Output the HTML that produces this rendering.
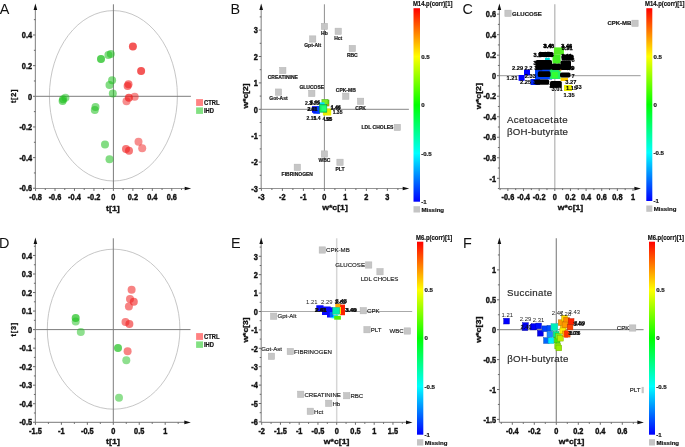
<!DOCTYPE html>
<html><head><meta charset="utf-8"><title>Figure</title>
<style>html,body{margin:0;padding:0;background:#fff;}body{width:685px;height:447px;overflow:hidden;font-family:"Liberation Sans",sans-serif;}svg{display:block;will-change:transform;}</style></head><body>
<svg width="685" height="447" viewBox="0 0 685 447" font-family="Liberation Sans, sans-serif">
<rect width="685" height="447" fill="#ffffff"/>
<ellipse cx="113.4" cy="95.8" rx="64" ry="85.2" fill="none" stroke="#b8b8b8" stroke-width="0.8"/>
<line x1="113.4" y1="4.3" x2="113.4" y2="188.5" stroke="#7c7c7c" stroke-width="1"/>
<line x1="35.4" y1="96.3" x2="190.9" y2="96.3" stroke="#7c7c7c" stroke-width="1"/>
<line x1="35.4" y1="8.3" x2="35.4" y2="188.5" stroke="#939393" stroke-width="1.2"/>
<line x1="35.4" y1="188.5" x2="185.9" y2="188.5" stroke="#939393" stroke-width="1.2"/>
<path d="M35.4 3.5 L33.6 9.9 L37.2 9.9 Z" fill="#111"/>
<path d="M191.2 188.5 L184.7 186.7 L184.7 190.3 Z" fill="#111"/>
<line x1="35.56" y1="188.5" x2="35.56" y2="190.9" stroke="#5a5a5a" stroke-width="0.9"/>
<text transform="translate(35.56 199.9) scale(0.9 1)" font-size="8.2" font-weight="bold" text-anchor="middle" fill="#111111" stroke="#111111" stroke-width="0.4">-0.8</text>
<line x1="45.29" y1="188.5" x2="45.29" y2="190" stroke="#5a5a5a" stroke-width="0.9"/>
<line x1="55.02" y1="188.5" x2="55.02" y2="190.9" stroke="#5a5a5a" stroke-width="0.9"/>
<text transform="translate(55.02 199.9) scale(0.9 1)" font-size="8.2" font-weight="bold" text-anchor="middle" fill="#111111" stroke="#111111" stroke-width="0.4">-0.6</text>
<line x1="64.75" y1="188.5" x2="64.75" y2="190" stroke="#5a5a5a" stroke-width="0.9"/>
<line x1="74.48" y1="188.5" x2="74.48" y2="190.9" stroke="#5a5a5a" stroke-width="0.9"/>
<text transform="translate(74.48 199.9) scale(0.9 1)" font-size="8.2" font-weight="bold" text-anchor="middle" fill="#111111" stroke="#111111" stroke-width="0.4">-0.4</text>
<line x1="84.21" y1="188.5" x2="84.21" y2="190" stroke="#5a5a5a" stroke-width="0.9"/>
<line x1="93.94" y1="188.5" x2="93.94" y2="190.9" stroke="#5a5a5a" stroke-width="0.9"/>
<text transform="translate(93.94 199.9) scale(0.9 1)" font-size="8.2" font-weight="bold" text-anchor="middle" fill="#111111" stroke="#111111" stroke-width="0.4">-0.2</text>
<line x1="103.67" y1="188.5" x2="103.67" y2="190" stroke="#5a5a5a" stroke-width="0.9"/>
<line x1="113.4" y1="188.5" x2="113.4" y2="190.9" stroke="#5a5a5a" stroke-width="0.9"/>
<text transform="translate(113.4 199.9) scale(0.9 1)" font-size="8.2" font-weight="bold" text-anchor="middle" fill="#111111" stroke="#111111" stroke-width="0.4">0</text>
<line x1="123.13" y1="188.5" x2="123.13" y2="190" stroke="#5a5a5a" stroke-width="0.9"/>
<line x1="132.86" y1="188.5" x2="132.86" y2="190.9" stroke="#5a5a5a" stroke-width="0.9"/>
<text transform="translate(132.86 199.9) scale(0.9 1)" font-size="8.2" font-weight="bold" text-anchor="middle" fill="#111111" stroke="#111111" stroke-width="0.4">0.2</text>
<line x1="142.59" y1="188.5" x2="142.59" y2="190" stroke="#5a5a5a" stroke-width="0.9"/>
<line x1="152.32" y1="188.5" x2="152.32" y2="190.9" stroke="#5a5a5a" stroke-width="0.9"/>
<text transform="translate(152.32 199.9) scale(0.9 1)" font-size="8.2" font-weight="bold" text-anchor="middle" fill="#111111" stroke="#111111" stroke-width="0.4">0.4</text>
<line x1="162.05" y1="188.5" x2="162.05" y2="190" stroke="#5a5a5a" stroke-width="0.9"/>
<line x1="171.78" y1="188.5" x2="171.78" y2="190.9" stroke="#5a5a5a" stroke-width="0.9"/>
<text transform="translate(171.78 199.9) scale(0.9 1)" font-size="8.2" font-weight="bold" text-anchor="middle" fill="#111111" stroke="#111111" stroke-width="0.4">0.6</text>
<line x1="181.51" y1="188.5" x2="181.51" y2="190" stroke="#5a5a5a" stroke-width="0.9"/>
<line x1="33" y1="188.28" x2="35.4" y2="188.28" stroke="#5a5a5a" stroke-width="0.9"/>
<text transform="translate(32.1 191.48) scale(0.9 1)" font-size="8.2" font-weight="bold" text-anchor="end" fill="#111111" stroke="#111111" stroke-width="0.4">-0.6</text>
<line x1="33.9" y1="172.95" x2="35.4" y2="172.95" stroke="#5a5a5a" stroke-width="0.9"/>
<line x1="33" y1="157.62" x2="35.4" y2="157.62" stroke="#5a5a5a" stroke-width="0.9"/>
<text transform="translate(32.1 160.82) scale(0.9 1)" font-size="8.2" font-weight="bold" text-anchor="end" fill="#111111" stroke="#111111" stroke-width="0.4">-0.4</text>
<line x1="33.9" y1="142.29" x2="35.4" y2="142.29" stroke="#5a5a5a" stroke-width="0.9"/>
<line x1="33" y1="126.96" x2="35.4" y2="126.96" stroke="#5a5a5a" stroke-width="0.9"/>
<text transform="translate(32.1 130.16) scale(0.9 1)" font-size="8.2" font-weight="bold" text-anchor="end" fill="#111111" stroke="#111111" stroke-width="0.4">-0.2</text>
<line x1="33.9" y1="111.63" x2="35.4" y2="111.63" stroke="#5a5a5a" stroke-width="0.9"/>
<line x1="33" y1="96.3" x2="35.4" y2="96.3" stroke="#5a5a5a" stroke-width="0.9"/>
<text transform="translate(32.1 99.5) scale(0.9 1)" font-size="8.2" font-weight="bold" text-anchor="end" fill="#111111" stroke="#111111" stroke-width="0.4">0</text>
<line x1="33.9" y1="80.97" x2="35.4" y2="80.97" stroke="#5a5a5a" stroke-width="0.9"/>
<line x1="33" y1="65.64" x2="35.4" y2="65.64" stroke="#5a5a5a" stroke-width="0.9"/>
<text transform="translate(32.1 68.84) scale(0.9 1)" font-size="8.2" font-weight="bold" text-anchor="end" fill="#111111" stroke="#111111" stroke-width="0.4">0.2</text>
<line x1="33.9" y1="50.31" x2="35.4" y2="50.31" stroke="#5a5a5a" stroke-width="0.9"/>
<line x1="33" y1="34.98" x2="35.4" y2="34.98" stroke="#5a5a5a" stroke-width="0.9"/>
<text transform="translate(32.1 38.18) scale(0.9 1)" font-size="8.2" font-weight="bold" text-anchor="end" fill="#111111" stroke="#111111" stroke-width="0.4">0.4</text>
<line x1="33.9" y1="19.65" x2="35.4" y2="19.65" stroke="#5a5a5a" stroke-width="0.9"/>
<text x="112.9" y="210.8" font-size="8" font-weight="bold" fill="#111111" stroke="#111111" stroke-width="0.3" text-anchor="middle" textLength="13.8" lengthAdjust="spacingAndGlyphs">t[1]</text>
<text x="0" y="0" font-size="7.3" font-weight="bold" fill="#111111" stroke="#111111" stroke-width="0.32" text-anchor="middle" textLength="13.6" lengthAdjust="spacing" transform="translate(15.5 96.3) rotate(-90)">t[2]</text>
<text x="-0.3" y="13.8" font-size="14.4" fill="#111">A</text>
<circle cx="132.9" cy="46.4" r="4" fill="#f01e1e" fill-opacity="0.75"/>
<circle cx="141.1" cy="70.9" r="4" fill="#f01e1e" fill-opacity="0.75"/>
<circle cx="128.5" cy="84.3" r="4" fill="#f01e1e" fill-opacity="0.6"/>
<circle cx="127.6" cy="86" r="4" fill="#f01e1e" fill-opacity="0.6"/>
<circle cx="134.7" cy="96.7" r="4" fill="#f01e1e" fill-opacity="0.5"/>
<circle cx="128.9" cy="97.8" r="4" fill="#f01e1e" fill-opacity="0.7"/>
<circle cx="126.5" cy="101.3" r="4" fill="#f01e1e" fill-opacity="0.5"/>
<circle cx="138.5" cy="141.7" r="4" fill="#f01e1e" fill-opacity="0.5"/>
<circle cx="142.2" cy="148.3" r="4" fill="#f01e1e" fill-opacity="0.5"/>
<circle cx="126" cy="149" r="4" fill="#f01e1e" fill-opacity="0.6"/>
<circle cx="129" cy="150.7" r="4" fill="#f01e1e" fill-opacity="0.6"/>
<circle cx="63.1" cy="99.2" r="4" fill="#1ec01e" fill-opacity="0.6"/>
<circle cx="65.4" cy="97.8" r="4" fill="#1ec01e" fill-opacity="0.5"/>
<circle cx="62.6" cy="101.1" r="4" fill="#1ec01e" fill-opacity="0.6"/>
<circle cx="101" cy="59.1" r="4" fill="#1ec01e" fill-opacity="0.75"/>
<circle cx="108.4" cy="55.1" r="4" fill="#1ec01e" fill-opacity="0.55"/>
<circle cx="110.8" cy="54" r="4" fill="#1ec01e" fill-opacity="0.55"/>
<circle cx="112.1" cy="80.2" r="4" fill="#1ec01e" fill-opacity="0.55"/>
<circle cx="109.5" cy="84.9" r="4" fill="#1ec01e" fill-opacity="0.55"/>
<circle cx="112.8" cy="93.6" r="4" fill="#1ec01e" fill-opacity="0.55"/>
<circle cx="95.5" cy="107.1" r="4" fill="#1ec01e" fill-opacity="0.55"/>
<circle cx="94.8" cy="110.1" r="4" fill="#1ec01e" fill-opacity="0.55"/>
<circle cx="105" cy="144.5" r="4" fill="#1ec01e" fill-opacity="0.55"/>
<circle cx="109.5" cy="159.2" r="4" fill="#1ec01e" fill-opacity="0.55"/>
<rect x="196.1" y="99.1" width="6.9" height="6.8" fill="#ff8282"/>
<rect x="196.1" y="107.4" width="6.9" height="6.5" fill="#82e082"/>
<text transform="translate(204 104.9) scale(0.9 1)" font-size="6.5" font-weight="bold" fill="#111111" stroke="#111111" stroke-width="0.2">CTRL</text>
<text transform="translate(204 113) scale(0.9 1)" font-size="6.5" font-weight="bold" fill="#111111" stroke="#111111" stroke-width="0.2">IHD</text>
<ellipse cx="113.6" cy="329.2" rx="66.3" ry="80" fill="none" stroke="#b8b8b8" stroke-width="0.8"/>
<line x1="113.3" y1="238.3" x2="113.3" y2="422.4" stroke="#7c7c7c" stroke-width="1"/>
<line x1="35.4" y1="329.6" x2="190.5" y2="329.6" stroke="#7c7c7c" stroke-width="1"/>
<line x1="35.4" y1="242.3" x2="35.4" y2="422.4" stroke="#939393" stroke-width="1.2"/>
<line x1="35.4" y1="422.4" x2="185.5" y2="422.4" stroke="#939393" stroke-width="1.2"/>
<path d="M35.4 237.5 L33.6 243.9 L37.2 243.9 Z" fill="#111"/>
<path d="M190.8 422.4 L184.3 420.6 L184.3 424.2 Z" fill="#111"/>
<line x1="35.45" y1="422.4" x2="35.45" y2="424.8" stroke="#5a5a5a" stroke-width="0.9"/>
<text transform="translate(35.45 433.8) scale(0.9 1)" font-size="8.2" font-weight="bold" text-anchor="middle" fill="#111111" stroke="#111111" stroke-width="0.4">-1.5</text>
<line x1="48.42" y1="422.4" x2="48.42" y2="423.9" stroke="#5a5a5a" stroke-width="0.9"/>
<line x1="61.4" y1="422.4" x2="61.4" y2="424.8" stroke="#5a5a5a" stroke-width="0.9"/>
<text transform="translate(61.4 433.8) scale(0.9 1)" font-size="8.2" font-weight="bold" text-anchor="middle" fill="#111111" stroke="#111111" stroke-width="0.4">-1</text>
<line x1="74.38" y1="422.4" x2="74.38" y2="423.9" stroke="#5a5a5a" stroke-width="0.9"/>
<line x1="87.35" y1="422.4" x2="87.35" y2="424.8" stroke="#5a5a5a" stroke-width="0.9"/>
<text transform="translate(87.35 433.8) scale(0.9 1)" font-size="8.2" font-weight="bold" text-anchor="middle" fill="#111111" stroke="#111111" stroke-width="0.4">-0.5</text>
<line x1="100.33" y1="422.4" x2="100.33" y2="423.9" stroke="#5a5a5a" stroke-width="0.9"/>
<line x1="113.3" y1="422.4" x2="113.3" y2="424.8" stroke="#5a5a5a" stroke-width="0.9"/>
<text transform="translate(113.3 433.8) scale(0.9 1)" font-size="8.2" font-weight="bold" text-anchor="middle" fill="#111111" stroke="#111111" stroke-width="0.4">0</text>
<line x1="126.27" y1="422.4" x2="126.27" y2="423.9" stroke="#5a5a5a" stroke-width="0.9"/>
<line x1="139.25" y1="422.4" x2="139.25" y2="424.8" stroke="#5a5a5a" stroke-width="0.9"/>
<text transform="translate(139.25 433.8) scale(0.9 1)" font-size="8.2" font-weight="bold" text-anchor="middle" fill="#111111" stroke="#111111" stroke-width="0.4">0.5</text>
<line x1="152.22" y1="422.4" x2="152.22" y2="423.9" stroke="#5a5a5a" stroke-width="0.9"/>
<line x1="165.2" y1="422.4" x2="165.2" y2="424.8" stroke="#5a5a5a" stroke-width="0.9"/>
<text transform="translate(165.2 433.8) scale(0.9 1)" font-size="8.2" font-weight="bold" text-anchor="middle" fill="#111111" stroke="#111111" stroke-width="0.4">1</text>
<line x1="178.18" y1="422.4" x2="178.18" y2="423.9" stroke="#5a5a5a" stroke-width="0.9"/>
<line x1="33" y1="422.25" x2="35.4" y2="422.25" stroke="#5a5a5a" stroke-width="0.9"/>
<text transform="translate(32.1 425.45) scale(0.9 1)" font-size="8.2" font-weight="bold" text-anchor="end" fill="#111111" stroke="#111111" stroke-width="0.4">-0.5</text>
<line x1="33.9" y1="412.99" x2="35.4" y2="412.99" stroke="#5a5a5a" stroke-width="0.9"/>
<line x1="33" y1="403.72" x2="35.4" y2="403.72" stroke="#5a5a5a" stroke-width="0.9"/>
<text transform="translate(32.1 406.92) scale(0.9 1)" font-size="8.2" font-weight="bold" text-anchor="end" fill="#111111" stroke="#111111" stroke-width="0.4">-0.4</text>
<line x1="33.9" y1="394.46" x2="35.4" y2="394.46" stroke="#5a5a5a" stroke-width="0.9"/>
<line x1="33" y1="385.19" x2="35.4" y2="385.19" stroke="#5a5a5a" stroke-width="0.9"/>
<text transform="translate(32.1 388.39) scale(0.9 1)" font-size="8.2" font-weight="bold" text-anchor="end" fill="#111111" stroke="#111111" stroke-width="0.4">-0.3</text>
<line x1="33.9" y1="375.93" x2="35.4" y2="375.93" stroke="#5a5a5a" stroke-width="0.9"/>
<line x1="33" y1="366.66" x2="35.4" y2="366.66" stroke="#5a5a5a" stroke-width="0.9"/>
<text transform="translate(32.1 369.86) scale(0.9 1)" font-size="8.2" font-weight="bold" text-anchor="end" fill="#111111" stroke="#111111" stroke-width="0.4">-0.2</text>
<line x1="33.9" y1="357.4" x2="35.4" y2="357.4" stroke="#5a5a5a" stroke-width="0.9"/>
<line x1="33" y1="348.13" x2="35.4" y2="348.13" stroke="#5a5a5a" stroke-width="0.9"/>
<text transform="translate(32.1 351.33) scale(0.9 1)" font-size="8.2" font-weight="bold" text-anchor="end" fill="#111111" stroke="#111111" stroke-width="0.4">-0.1</text>
<line x1="33.9" y1="338.87" x2="35.4" y2="338.87" stroke="#5a5a5a" stroke-width="0.9"/>
<line x1="33" y1="329.6" x2="35.4" y2="329.6" stroke="#5a5a5a" stroke-width="0.9"/>
<text transform="translate(32.1 332.8) scale(0.9 1)" font-size="8.2" font-weight="bold" text-anchor="end" fill="#111111" stroke="#111111" stroke-width="0.4">0</text>
<line x1="33.9" y1="320.34" x2="35.4" y2="320.34" stroke="#5a5a5a" stroke-width="0.9"/>
<line x1="33" y1="311.07" x2="35.4" y2="311.07" stroke="#5a5a5a" stroke-width="0.9"/>
<text transform="translate(32.1 314.27) scale(0.9 1)" font-size="8.2" font-weight="bold" text-anchor="end" fill="#111111" stroke="#111111" stroke-width="0.4">0.1</text>
<line x1="33.9" y1="301.81" x2="35.4" y2="301.81" stroke="#5a5a5a" stroke-width="0.9"/>
<line x1="33" y1="292.54" x2="35.4" y2="292.54" stroke="#5a5a5a" stroke-width="0.9"/>
<text transform="translate(32.1 295.74) scale(0.9 1)" font-size="8.2" font-weight="bold" text-anchor="end" fill="#111111" stroke="#111111" stroke-width="0.4">0.2</text>
<line x1="33.9" y1="283.28" x2="35.4" y2="283.28" stroke="#5a5a5a" stroke-width="0.9"/>
<line x1="33" y1="274.01" x2="35.4" y2="274.01" stroke="#5a5a5a" stroke-width="0.9"/>
<text transform="translate(32.1 277.21) scale(0.9 1)" font-size="8.2" font-weight="bold" text-anchor="end" fill="#111111" stroke="#111111" stroke-width="0.4">0.3</text>
<line x1="33.9" y1="264.75" x2="35.4" y2="264.75" stroke="#5a5a5a" stroke-width="0.9"/>
<line x1="33" y1="255.48" x2="35.4" y2="255.48" stroke="#5a5a5a" stroke-width="0.9"/>
<text transform="translate(32.1 258.68) scale(0.9 1)" font-size="8.2" font-weight="bold" text-anchor="end" fill="#111111" stroke="#111111" stroke-width="0.4">0.4</text>
<line x1="33.9" y1="246.22" x2="35.4" y2="246.22" stroke="#5a5a5a" stroke-width="0.9"/>
<text x="113" y="444" font-size="8" font-weight="bold" fill="#111111" stroke="#111111" stroke-width="0.3" text-anchor="middle" textLength="13.8" lengthAdjust="spacingAndGlyphs">t[1]</text>
<text x="0" y="0" font-size="7.3" font-weight="bold" fill="#111111" stroke="#111111" stroke-width="0.32" text-anchor="middle" textLength="13.6" lengthAdjust="spacing" transform="translate(15.5 329.6) rotate(-90)">t[3]</text>
<text x="-1.1" y="247.6" font-size="14.4" fill="#111">D</text>
<circle cx="131.6" cy="289.7" r="4" fill="#f01e1e" fill-opacity="0.55"/>
<circle cx="130" cy="299.1" r="4" fill="#f01e1e" fill-opacity="0.55"/>
<circle cx="133.8" cy="301.8" r="4" fill="#f01e1e" fill-opacity="0.6"/>
<circle cx="128.9" cy="306.5" r="4" fill="#f01e1e" fill-opacity="0.55"/>
<circle cx="125.5" cy="322.1" r="4" fill="#f01e1e" fill-opacity="0.55"/>
<circle cx="129.4" cy="324.1" r="4" fill="#f01e1e" fill-opacity="0.6"/>
<circle cx="127.6" cy="351.3" r="4" fill="#f01e1e" fill-opacity="0.55"/>
<circle cx="75.7" cy="317.9" r="4" fill="#1ec01e" fill-opacity="0.7"/>
<circle cx="75.7" cy="321.5" r="4" fill="#1ec01e" fill-opacity="0.5"/>
<circle cx="80.8" cy="332" r="4" fill="#1ec01e" fill-opacity="0.5"/>
<circle cx="118" cy="348" r="4" fill="#1ec01e" fill-opacity="0.7"/>
<circle cx="126.3" cy="360.2" r="4" fill="#1ec01e" fill-opacity="0.5"/>
<circle cx="119" cy="397.8" r="4" fill="#1ec01e" fill-opacity="0.5"/>
<rect x="196.1" y="333.1" width="6.9" height="6.8" fill="#ff8282"/>
<rect x="196.1" y="341.4" width="6.9" height="6.5" fill="#82e082"/>
<text transform="translate(204 338.9) scale(0.9 1)" font-size="6.5" font-weight="bold" fill="#111111" stroke="#111111" stroke-width="0.2">CTRL</text>
<text transform="translate(204 347) scale(0.9 1)" font-size="6.5" font-weight="bold" fill="#111111" stroke="#111111" stroke-width="0.2">IHD</text>
<line x1="324.4" y1="4.3" x2="324.4" y2="188.5" stroke="#8e8e8e" stroke-width="1"/>
<line x1="261.2" y1="109.3" x2="408.9" y2="109.3" stroke="#888888" stroke-width="1"/>
<line x1="261.2" y1="8.3" x2="261.2" y2="188.5" stroke="#939393" stroke-width="1.2"/>
<line x1="261.2" y1="188.5" x2="403.9" y2="188.5" stroke="#939393" stroke-width="1.2"/>
<path d="M261.2 3.5 L259.4 9.9 L263 9.9 Z" fill="#111"/>
<path d="M409.2 188.5 L402.7 186.7 L402.7 190.3 Z" fill="#111"/>
<line x1="261.4" y1="188.5" x2="261.4" y2="190.9" stroke="#5a5a5a" stroke-width="0.9"/>
<text transform="translate(261.4 199.9) scale(0.9 1)" font-size="8.2" font-weight="bold" text-anchor="middle" fill="#111111" stroke="#111111" stroke-width="0.4">-3</text>
<line x1="271.9" y1="188.5" x2="271.9" y2="190" stroke="#5a5a5a" stroke-width="0.9"/>
<line x1="282.4" y1="188.5" x2="282.4" y2="190.9" stroke="#5a5a5a" stroke-width="0.9"/>
<text transform="translate(282.4 199.9) scale(0.9 1)" font-size="8.2" font-weight="bold" text-anchor="middle" fill="#111111" stroke="#111111" stroke-width="0.4">-2</text>
<line x1="292.9" y1="188.5" x2="292.9" y2="190" stroke="#5a5a5a" stroke-width="0.9"/>
<line x1="303.4" y1="188.5" x2="303.4" y2="190.9" stroke="#5a5a5a" stroke-width="0.9"/>
<text transform="translate(303.4 199.9) scale(0.9 1)" font-size="8.2" font-weight="bold" text-anchor="middle" fill="#111111" stroke="#111111" stroke-width="0.4">-1</text>
<line x1="313.9" y1="188.5" x2="313.9" y2="190" stroke="#5a5a5a" stroke-width="0.9"/>
<line x1="324.4" y1="188.5" x2="324.4" y2="190.9" stroke="#5a5a5a" stroke-width="0.9"/>
<text transform="translate(324.4 199.9) scale(0.9 1)" font-size="8.2" font-weight="bold" text-anchor="middle" fill="#111111" stroke="#111111" stroke-width="0.4">0</text>
<line x1="334.9" y1="188.5" x2="334.9" y2="190" stroke="#5a5a5a" stroke-width="0.9"/>
<line x1="345.4" y1="188.5" x2="345.4" y2="190.9" stroke="#5a5a5a" stroke-width="0.9"/>
<text transform="translate(345.4 199.9) scale(0.9 1)" font-size="8.2" font-weight="bold" text-anchor="middle" fill="#111111" stroke="#111111" stroke-width="0.4">1</text>
<line x1="355.9" y1="188.5" x2="355.9" y2="190" stroke="#5a5a5a" stroke-width="0.9"/>
<line x1="366.4" y1="188.5" x2="366.4" y2="190.9" stroke="#5a5a5a" stroke-width="0.9"/>
<text transform="translate(366.4 199.9) scale(0.9 1)" font-size="8.2" font-weight="bold" text-anchor="middle" fill="#111111" stroke="#111111" stroke-width="0.4">2</text>
<line x1="376.9" y1="188.5" x2="376.9" y2="190" stroke="#5a5a5a" stroke-width="0.9"/>
<line x1="387.4" y1="188.5" x2="387.4" y2="190.9" stroke="#5a5a5a" stroke-width="0.9"/>
<text transform="translate(387.4 199.9) scale(0.9 1)" font-size="8.2" font-weight="bold" text-anchor="middle" fill="#111111" stroke="#111111" stroke-width="0.4">3</text>
<line x1="397.9" y1="188.5" x2="397.9" y2="190" stroke="#5a5a5a" stroke-width="0.9"/>
<line x1="258.8" y1="188.5" x2="261.2" y2="188.5" stroke="#5a5a5a" stroke-width="0.9"/>
<text transform="translate(257.9 191.7) scale(0.9 1)" font-size="8.2" font-weight="bold" text-anchor="end" fill="#111111" stroke="#111111" stroke-width="0.4">-3</text>
<line x1="259.7" y1="175.3" x2="261.2" y2="175.3" stroke="#5a5a5a" stroke-width="0.9"/>
<line x1="258.8" y1="162.1" x2="261.2" y2="162.1" stroke="#5a5a5a" stroke-width="0.9"/>
<text transform="translate(257.9 165.3) scale(0.9 1)" font-size="8.2" font-weight="bold" text-anchor="end" fill="#111111" stroke="#111111" stroke-width="0.4">-2</text>
<line x1="259.7" y1="148.9" x2="261.2" y2="148.9" stroke="#5a5a5a" stroke-width="0.9"/>
<line x1="258.8" y1="135.7" x2="261.2" y2="135.7" stroke="#5a5a5a" stroke-width="0.9"/>
<text transform="translate(257.9 138.9) scale(0.9 1)" font-size="8.2" font-weight="bold" text-anchor="end" fill="#111111" stroke="#111111" stroke-width="0.4">-1</text>
<line x1="259.7" y1="122.5" x2="261.2" y2="122.5" stroke="#5a5a5a" stroke-width="0.9"/>
<line x1="258.8" y1="109.3" x2="261.2" y2="109.3" stroke="#5a5a5a" stroke-width="0.9"/>
<text transform="translate(257.9 112.5) scale(0.9 1)" font-size="8.2" font-weight="bold" text-anchor="end" fill="#111111" stroke="#111111" stroke-width="0.4">0</text>
<line x1="259.7" y1="96.1" x2="261.2" y2="96.1" stroke="#5a5a5a" stroke-width="0.9"/>
<line x1="258.8" y1="82.9" x2="261.2" y2="82.9" stroke="#5a5a5a" stroke-width="0.9"/>
<text transform="translate(257.9 86.1) scale(0.9 1)" font-size="8.2" font-weight="bold" text-anchor="end" fill="#111111" stroke="#111111" stroke-width="0.4">1</text>
<line x1="259.7" y1="69.7" x2="261.2" y2="69.7" stroke="#5a5a5a" stroke-width="0.9"/>
<line x1="258.8" y1="56.5" x2="261.2" y2="56.5" stroke="#5a5a5a" stroke-width="0.9"/>
<text transform="translate(257.9 59.7) scale(0.9 1)" font-size="8.2" font-weight="bold" text-anchor="end" fill="#111111" stroke="#111111" stroke-width="0.4">2</text>
<line x1="259.7" y1="43.3" x2="261.2" y2="43.3" stroke="#5a5a5a" stroke-width="0.9"/>
<line x1="258.8" y1="30.1" x2="261.2" y2="30.1" stroke="#5a5a5a" stroke-width="0.9"/>
<text transform="translate(257.9 33.3) scale(0.9 1)" font-size="8.2" font-weight="bold" text-anchor="end" fill="#111111" stroke="#111111" stroke-width="0.4">3</text>
<line x1="259.7" y1="16.9" x2="261.2" y2="16.9" stroke="#5a5a5a" stroke-width="0.9"/>
<text x="335" y="210.4" font-size="7.4" font-weight="bold" fill="#111111" stroke="#111111" stroke-width="0.3" text-anchor="middle" textLength="25.6" lengthAdjust="spacingAndGlyphs">w*c[1]</text>
<text x="0" y="0" font-size="6.9" font-weight="bold" fill="#111111" stroke="#111111" stroke-width="0.32" text-anchor="middle" textLength="25.2" lengthAdjust="spacingAndGlyphs" transform="translate(248.2 95.9) rotate(-90)">w*c[2]</text>
<text x="230.5" y="13.8" font-size="14.4" fill="#111">B</text>
<rect x="321.25" y="23.25" width="6.3" height="6.3" fill="#c6c6c6" stroke="#b4b4b4" stroke-width="0.5"/>
<text x="324.4" y="34.7" font-size="5" font-weight="bold" text-anchor="middle" fill="#1a1a1a" stroke="#1a1a1a" stroke-width="0.2">Hb</text>
<rect x="335.05" y="28.15" width="6.3" height="6.3" fill="#c6c6c6" stroke="#b4b4b4" stroke-width="0.5"/>
<text x="338.2" y="39.6" font-size="5" font-weight="bold" text-anchor="middle" fill="#1a1a1a" stroke="#1a1a1a" stroke-width="0.2">Hct</text>
<rect x="309.55" y="35.85" width="6.3" height="6.3" fill="#c6c6c6" stroke="#b4b4b4" stroke-width="0.5"/>
<text x="312.7" y="47.3" font-size="5" font-weight="bold" text-anchor="middle" fill="#1a1a1a" stroke="#1a1a1a" stroke-width="0.2">Gpt-Alt</text>
<rect x="349.15" y="45.35" width="6.3" height="6.3" fill="#c6c6c6" stroke="#b4b4b4" stroke-width="0.5"/>
<text x="352.3" y="56.8" font-size="5" font-weight="bold" text-anchor="middle" fill="#1a1a1a" stroke="#1a1a1a" stroke-width="0.2">RBC</text>
<rect x="279.65" y="67.35" width="6.3" height="6.3" fill="#c6c6c6" stroke="#b4b4b4" stroke-width="0.5"/>
<text x="282.8" y="78.8" font-size="5" font-weight="bold" text-anchor="middle" fill="#1a1a1a" stroke="#1a1a1a" stroke-width="0.2">CREATININE</text>
<rect x="275.35" y="88.95" width="6.3" height="6.3" fill="#c6c6c6" stroke="#b4b4b4" stroke-width="0.5"/>
<text x="278.5" y="100.4" font-size="5" font-weight="bold" text-anchor="middle" fill="#1a1a1a" stroke="#1a1a1a" stroke-width="0.2">Got-Ast</text>
<rect x="308.65" y="90.25" width="6.3" height="6.3" fill="#c6c6c6" stroke="#b4b4b4" stroke-width="0.5"/>
<text x="311.8" y="88.8" font-size="5" font-weight="bold" text-anchor="middle" fill="#1a1a1a" stroke="#1a1a1a" stroke-width="0.2">GLUCOSE</text>
<rect x="342.65" y="93.05" width="6.3" height="6.3" fill="#c6c6c6" stroke="#b4b4b4" stroke-width="0.5"/>
<text x="345.8" y="91.6" font-size="5" font-weight="bold" text-anchor="middle" fill="#1a1a1a" stroke="#1a1a1a" stroke-width="0.2">CPK-MB</text>
<rect x="357.45" y="98.15" width="6.3" height="6.3" fill="#c6c6c6" stroke="#b4b4b4" stroke-width="0.5"/>
<text x="360.6" y="109.6" font-size="5" font-weight="bold" text-anchor="middle" fill="#1a1a1a" stroke="#1a1a1a" stroke-width="0.2">CPK</text>
<rect x="394.15" y="124.25" width="6.3" height="6.3" fill="#c6c6c6" stroke="#b4b4b4" stroke-width="0.5"/>
<text x="393.4" y="129.2" font-size="5" font-weight="bold" text-anchor="end" fill="#1a1a1a" stroke="#1a1a1a" stroke-width="0.2">LDL CHOLES</text>
<rect x="321.25" y="150.85" width="6.3" height="6.3" fill="#c6c6c6" stroke="#b4b4b4" stroke-width="0.5"/>
<text x="324.4" y="162.3" font-size="5" font-weight="bold" text-anchor="middle" fill="#1a1a1a" stroke="#1a1a1a" stroke-width="0.2">WBC</text>
<rect x="336.85" y="159.15" width="6.3" height="6.3" fill="#c6c6c6" stroke="#b4b4b4" stroke-width="0.5"/>
<text x="340" y="170.6" font-size="5" font-weight="bold" text-anchor="middle" fill="#1a1a1a" stroke="#1a1a1a" stroke-width="0.2">PLT</text>
<rect x="294.15" y="164.15" width="6.3" height="6.3" fill="#c6c6c6" stroke="#b4b4b4" stroke-width="0.5"/>
<text x="297.3" y="175.6" font-size="5" font-weight="bold" text-anchor="middle" fill="#1a1a1a" stroke="#1a1a1a" stroke-width="0.2">FIBRINOGEN</text>
<rect x="322.9" y="100" width="6.1" height="6" fill="#66dd11" stroke="#44aa11" stroke-width="0.5"/>
<rect x="321.9" y="99.4" width="6.1" height="6" fill="#77ee22" stroke="#55aa22" stroke-width="0.5"/>
<rect x="319" y="102.4" width="5.6" height="3.2" fill="#00e0ff"/>
<rect x="322.9" y="109.8" width="8.3" height="5.7" fill="#eeee00"/>
<rect x="326.8" y="108.5" width="4.3" height="3" fill="#ddee00"/>
<rect x="312" y="106.2" width="6.5" height="6.5" fill="#0000ff"/>
<rect x="313.2" y="107.6" width="6.6" height="6.1" fill="#0022ff"/>
<rect x="316.5" y="106" width="3.5" height="7.5" fill="#0040ff"/>
<rect x="327.4" y="104.3" width="1.6" height="1.4" fill="#ff7700"/>
<rect x="319.6" y="104.6" width="7.2" height="7.6" fill="#11ee66" stroke="#119944" stroke-width="0.6"/>
<rect x="321.4" y="106.2" width="5.0" height="5.0" fill="#22ff77"/>
<text x="305" y="105.2" font-size="5" font-weight="bold" fill="#111" stroke="#111" stroke-width="0.18">2.3</text>
<text x="309.6" y="104.6" font-size="5" font-weight="bold" fill="#111" stroke="#111" stroke-width="0.18">3.25</text>
<text x="310.2" y="104" font-size="5" font-weight="bold" fill="#111" stroke="#111" stroke-width="0.18">3.46</text>
<text x="307.2" y="111.2" font-size="5" font-weight="bold" fill="#111" stroke="#111" stroke-width="0.18">2.61</text>
<text x="307.8" y="111" font-size="5" font-weight="bold" fill="#111" stroke="#111" stroke-width="0.18">2.41</text>
<text x="306.6" y="120.3" font-size="5" font-weight="bold" fill="#111" stroke="#111" stroke-width="0.18">2.15</text>
<text x="313.6" y="120.3" font-size="5" font-weight="bold" fill="#111" stroke="#111" stroke-width="0.18">1.4</text>
<text x="322.6" y="120.7" font-size="5" font-weight="bold" fill="#111" stroke="#111" stroke-width="0.18">4.95</text>
<text x="324.6" y="121.2" font-size="5" font-weight="bold" fill="#111" stroke="#111" stroke-width="0.18">.55</text>
<text x="330.5" y="109.6" font-size="5" font-weight="bold" fill="#111" stroke="#111" stroke-width="0.18">1.48</text>
<text x="331" y="109.4" font-size="5" font-weight="bold" fill="#111" stroke="#111" stroke-width="0.18">1.46</text>
<text x="332.7" y="114.3" font-size="5" font-weight="bold" fill="#111" stroke="#111" stroke-width="0.18">1.35</text>
<line x1="554.8" y1="4.3" x2="554.8" y2="188.6" stroke="#b8b8b8" stroke-width="1.3"/>
<line x1="499.4" y1="75.7" x2="640.6" y2="75.7" stroke="#999999" stroke-width="1"/>
<line x1="499.4" y1="8.3" x2="499.4" y2="188.6" stroke="#939393" stroke-width="1.2"/>
<line x1="499.4" y1="188.6" x2="635.6" y2="188.6" stroke="#939393" stroke-width="1.2"/>
<path d="M499.4 3.5 L497.6 9.9 L501.2 9.9 Z" fill="#111"/>
<path d="M640.9 188.6 L634.4 186.8 L634.4 190.4 Z" fill="#111"/>
<line x1="500.06" y1="188.6" x2="500.06" y2="190.1" stroke="#5a5a5a" stroke-width="0.9"/>
<line x1="507.88" y1="188.6" x2="507.88" y2="191" stroke="#5a5a5a" stroke-width="0.9"/>
<text transform="translate(507.88 200) scale(0.9 1)" font-size="8.2" font-weight="bold" text-anchor="middle" fill="#111111" stroke="#111111" stroke-width="0.4">-0.6</text>
<line x1="515.7" y1="188.6" x2="515.7" y2="190.1" stroke="#5a5a5a" stroke-width="0.9"/>
<line x1="523.52" y1="188.6" x2="523.52" y2="191" stroke="#5a5a5a" stroke-width="0.9"/>
<text transform="translate(523.52 200) scale(0.9 1)" font-size="8.2" font-weight="bold" text-anchor="middle" fill="#111111" stroke="#111111" stroke-width="0.4">-0.4</text>
<line x1="531.34" y1="188.6" x2="531.34" y2="190.1" stroke="#5a5a5a" stroke-width="0.9"/>
<line x1="539.16" y1="188.6" x2="539.16" y2="191" stroke="#5a5a5a" stroke-width="0.9"/>
<text transform="translate(539.16 200) scale(0.9 1)" font-size="8.2" font-weight="bold" text-anchor="middle" fill="#111111" stroke="#111111" stroke-width="0.4">-0.2</text>
<line x1="546.98" y1="188.6" x2="546.98" y2="190.1" stroke="#5a5a5a" stroke-width="0.9"/>
<line x1="554.8" y1="188.6" x2="554.8" y2="191" stroke="#5a5a5a" stroke-width="0.9"/>
<text transform="translate(554.8 200) scale(0.9 1)" font-size="8.2" font-weight="bold" text-anchor="middle" fill="#111111" stroke="#111111" stroke-width="0.4">0</text>
<line x1="562.62" y1="188.6" x2="562.62" y2="190.1" stroke="#5a5a5a" stroke-width="0.9"/>
<line x1="570.44" y1="188.6" x2="570.44" y2="191" stroke="#5a5a5a" stroke-width="0.9"/>
<text transform="translate(570.44 200) scale(0.9 1)" font-size="8.2" font-weight="bold" text-anchor="middle" fill="#111111" stroke="#111111" stroke-width="0.4">0.2</text>
<line x1="578.26" y1="188.6" x2="578.26" y2="190.1" stroke="#5a5a5a" stroke-width="0.9"/>
<line x1="586.08" y1="188.6" x2="586.08" y2="191" stroke="#5a5a5a" stroke-width="0.9"/>
<text transform="translate(586.08 200) scale(0.9 1)" font-size="8.2" font-weight="bold" text-anchor="middle" fill="#111111" stroke="#111111" stroke-width="0.4">0.4</text>
<line x1="593.9" y1="188.6" x2="593.9" y2="190.1" stroke="#5a5a5a" stroke-width="0.9"/>
<line x1="601.72" y1="188.6" x2="601.72" y2="191" stroke="#5a5a5a" stroke-width="0.9"/>
<text transform="translate(601.72 200) scale(0.9 1)" font-size="8.2" font-weight="bold" text-anchor="middle" fill="#111111" stroke="#111111" stroke-width="0.4">0.6</text>
<line x1="609.54" y1="188.6" x2="609.54" y2="190.1" stroke="#5a5a5a" stroke-width="0.9"/>
<line x1="617.36" y1="188.6" x2="617.36" y2="191" stroke="#5a5a5a" stroke-width="0.9"/>
<text transform="translate(617.36 200) scale(0.9 1)" font-size="8.2" font-weight="bold" text-anchor="middle" fill="#111111" stroke="#111111" stroke-width="0.4">0.8</text>
<line x1="625.18" y1="188.6" x2="625.18" y2="190.1" stroke="#5a5a5a" stroke-width="0.9"/>
<line x1="633" y1="188.6" x2="633" y2="191" stroke="#5a5a5a" stroke-width="0.9"/>
<text transform="translate(633 200) scale(0.9 1)" font-size="8.2" font-weight="bold" text-anchor="middle" fill="#111111" stroke="#111111" stroke-width="0.4">1</text>
<line x1="497.9" y1="188.56" x2="499.4" y2="188.56" stroke="#5a5a5a" stroke-width="0.9"/>
<line x1="497" y1="178.3" x2="499.4" y2="178.3" stroke="#5a5a5a" stroke-width="0.9"/>
<text transform="translate(496.1 181.5) scale(0.9 1)" font-size="8.2" font-weight="bold" text-anchor="end" fill="#111111" stroke="#111111" stroke-width="0.4">-1</text>
<line x1="497.9" y1="168.04" x2="499.4" y2="168.04" stroke="#5a5a5a" stroke-width="0.9"/>
<line x1="497" y1="157.78" x2="499.4" y2="157.78" stroke="#5a5a5a" stroke-width="0.9"/>
<text transform="translate(496.1 160.98) scale(0.9 1)" font-size="8.2" font-weight="bold" text-anchor="end" fill="#111111" stroke="#111111" stroke-width="0.4">-0.8</text>
<line x1="497.9" y1="147.52" x2="499.4" y2="147.52" stroke="#5a5a5a" stroke-width="0.9"/>
<line x1="497" y1="137.26" x2="499.4" y2="137.26" stroke="#5a5a5a" stroke-width="0.9"/>
<text transform="translate(496.1 140.46) scale(0.9 1)" font-size="8.2" font-weight="bold" text-anchor="end" fill="#111111" stroke="#111111" stroke-width="0.4">-0.6</text>
<line x1="497.9" y1="127" x2="499.4" y2="127" stroke="#5a5a5a" stroke-width="0.9"/>
<line x1="497" y1="116.74" x2="499.4" y2="116.74" stroke="#5a5a5a" stroke-width="0.9"/>
<text transform="translate(496.1 119.94) scale(0.9 1)" font-size="8.2" font-weight="bold" text-anchor="end" fill="#111111" stroke="#111111" stroke-width="0.4">-0.4</text>
<line x1="497.9" y1="106.48" x2="499.4" y2="106.48" stroke="#5a5a5a" stroke-width="0.9"/>
<line x1="497" y1="96.22" x2="499.4" y2="96.22" stroke="#5a5a5a" stroke-width="0.9"/>
<text transform="translate(496.1 99.42) scale(0.9 1)" font-size="8.2" font-weight="bold" text-anchor="end" fill="#111111" stroke="#111111" stroke-width="0.4">-0.2</text>
<line x1="497.9" y1="85.96" x2="499.4" y2="85.96" stroke="#5a5a5a" stroke-width="0.9"/>
<line x1="497" y1="75.7" x2="499.4" y2="75.7" stroke="#5a5a5a" stroke-width="0.9"/>
<text transform="translate(496.1 78.9) scale(0.9 1)" font-size="8.2" font-weight="bold" text-anchor="end" fill="#111111" stroke="#111111" stroke-width="0.4">0</text>
<line x1="497.9" y1="65.44" x2="499.4" y2="65.44" stroke="#5a5a5a" stroke-width="0.9"/>
<line x1="497" y1="55.18" x2="499.4" y2="55.18" stroke="#5a5a5a" stroke-width="0.9"/>
<text transform="translate(496.1 58.38) scale(0.9 1)" font-size="8.2" font-weight="bold" text-anchor="end" fill="#111111" stroke="#111111" stroke-width="0.4">0.2</text>
<line x1="497.9" y1="44.92" x2="499.4" y2="44.92" stroke="#5a5a5a" stroke-width="0.9"/>
<line x1="497" y1="34.66" x2="499.4" y2="34.66" stroke="#5a5a5a" stroke-width="0.9"/>
<text transform="translate(496.1 37.86) scale(0.9 1)" font-size="8.2" font-weight="bold" text-anchor="end" fill="#111111" stroke="#111111" stroke-width="0.4">0.4</text>
<line x1="497.9" y1="24.4" x2="499.4" y2="24.4" stroke="#5a5a5a" stroke-width="0.9"/>
<line x1="497" y1="14.14" x2="499.4" y2="14.14" stroke="#5a5a5a" stroke-width="0.9"/>
<text transform="translate(496.1 17.34) scale(0.9 1)" font-size="8.2" font-weight="bold" text-anchor="end" fill="#111111" stroke="#111111" stroke-width="0.4">0.6</text>
<text x="570.5" y="210" font-size="7.3" font-weight="bold" fill="#111111" stroke="#111111" stroke-width="0.3" text-anchor="middle" textLength="25.5" lengthAdjust="spacingAndGlyphs">w*c[1]</text>
<text x="0" y="0" font-size="7.9" font-weight="bold" fill="#111111" stroke="#111111" stroke-width="0.32" text-anchor="middle" textLength="26.2" lengthAdjust="spacingAndGlyphs" transform="translate(481 96.1) rotate(-90)">w*c[2]</text>
<text x="462.4" y="13.8" font-size="14.4" fill="#111">C</text>
<rect x="504.85" y="10.15" width="6.3" height="6.3" fill="#c6c6c6" stroke="#b4b4b4" stroke-width="0.5"/>
<text x="512" y="15.5" font-size="6" font-weight="bold" fill="#1a1a1a" stroke="#1a1a1a" stroke-width="0.2">GLUCOSE</text>
<rect x="631.85" y="20.15" width="6.3" height="6.3" fill="#c6c6c6" stroke="#b4b4b4" stroke-width="0.5"/>
<text x="631.4" y="25.4" font-size="6" font-weight="bold" text-anchor="end" fill="#1a1a1a" stroke="#1a1a1a" stroke-width="0.2">CPK-MB</text>
<rect x="553.9" y="47.4" width="10" height="7.4" fill="#55ee22"/>
<rect x="552.5" y="54.8" width="8.1" height="8.7" fill="#44ee22"/>
<rect x="545" y="57.8" width="4.8" height="2.4" fill="#00dddd"/>
<rect x="524" y="69.6" width="6" height="5.6" fill="#0000ff"/>
<rect x="518.6" y="75" width="6" height="5.8" fill="#0000ff"/>
<rect x="535" y="69" width="17" height="10.5" fill="#0044ff"/>
<rect x="549.8" y="68.9" width="10.8" height="10.1" fill="#22ee66"/>
<rect x="551.8" y="72" width="6.1" height="6" fill="#33ff33"/>
<rect x="530.5" y="79" width="9.3" height="6" fill="#0022ee"/>
<rect x="560.6" y="77.6" width="7.4" height="3.4" fill="#ffcc00"/>
<rect x="564" y="85" width="8" height="6" fill="#eeee00"/>
<rect x="559" y="68.8" width="2.5" height="1.8" fill="#ff8800"/>
<rect x="535.5" y="60" width="16.5" height="9.8" rx="1.6" fill="#000"/>
<rect x="560.5" y="60.5" width="10.5" height="9.5" rx="1.6" fill="#000"/>
<rect x="551.5" y="63.5" width="9.5" height="6.5" rx="1.6" fill="#000"/>
<rect x="538.5" y="52" width="15" height="5" rx="1.6" fill="#000"/>
<rect x="561.5" y="54.5" width="12" height="6" rx="1.6" fill="#000"/>
<rect x="537.8" y="71.3" width="12.8" height="5.8" rx="1.6" fill="#000"/>
<rect x="560" y="72.4" width="10.5" height="5" rx="1.6" fill="#000"/>
<rect x="535" y="79.6" width="14.2" height="5.2" rx="1.6" fill="#000"/>
<rect x="550" y="81" width="11.8" height="6.8" rx="1.6" fill="#000"/>
<path d="M553.0 60.0 L561.0 60.0 L557.0 64.0 Z" fill="#44ee22"/>
<text x="543.3" y="47.9" font-size="5.6" font-weight="bold" fill="#000" stroke="#000" stroke-width="0.35">3.48</text>
<text x="543.8" y="47.6" font-size="5.6" font-weight="bold" fill="#000" stroke="#000" stroke-width="0.35">3.4</text>
<text x="561.3" y="48.2" font-size="5.6" font-weight="bold" fill="#000" stroke="#000" stroke-width="0.35">3.46</text>
<text x="561.8" y="49.7" font-size="5.6" font-weight="bold" fill="#000" stroke="#000" stroke-width="0.35">3.91</text>
<text x="533.5" y="57.2" font-size="5.6" font-weight="bold" fill="#000" stroke="#000" stroke-width="0.35">3.2</text>
<text x="539" y="56.2" font-size="5.6" font-weight="bold" fill="#000" stroke="#000" stroke-width="0.35">3.05</text>
<text x="542.5" y="56.6" font-size="5.6" font-weight="bold" fill="#000" stroke="#000" stroke-width="0.35">3.08</text>
<text x="561.4" y="57.9" font-size="5.6" font-weight="bold" fill="#000" stroke="#000" stroke-width="0.35">3.11</text>
<text x="563" y="59.5" font-size="5.6" font-weight="bold" fill="#000" stroke="#000" stroke-width="0.35">3.15</text>
<text x="533.5" y="64.5" font-size="5.6" font-weight="bold" fill="#000" stroke="#000" stroke-width="0.35">3.0</text>
<text x="534.5" y="69.5" font-size="5.6" font-weight="bold" fill="#000" stroke="#000" stroke-width="0.35">3.2</text>
<text x="566" y="69.8" font-size="5.6" font-weight="bold" fill="#000" stroke="#000" stroke-width="0.35">3.9</text>
<text x="533.4" y="84.4" font-size="5.6" font-weight="bold" fill="#000" stroke="#000" stroke-width="0.35">3.0</text>
<text x="549.5" y="87.5" font-size="5.6" font-weight="bold" fill="#000" stroke="#000" stroke-width="0.35">3.0</text>
<text x="512" y="69.6" font-size="5.7" font-weight="bold" fill="#000" stroke="#000" stroke-width="0.12">2.29</text>
<text x="524.6" y="69.6" font-size="5.7" font-weight="bold" fill="#000" stroke="#000" stroke-width="0.12">2.2</text>
<text x="506.6" y="80.3" font-size="5.7" font-weight="bold" fill="#000" stroke="#000" stroke-width="0.12">1.21</text>
<text x="520" y="84.4" font-size="5.7" font-weight="bold" fill="#000" stroke="#000" stroke-width="0.12">2.25</text>
<text x="563.6" y="96.6" font-size="5.7" font-weight="bold" fill="#000" stroke="#000" stroke-width="0.12">1.35</text>
<text x="575.3" y="89" font-size="5.7" font-weight="bold" fill="#000" stroke="#000" stroke-width="0.12">33</text>
<text x="571.4" y="77.6" font-size="5.7" font-weight="bold" fill="#000" stroke="#000" stroke-width="0.12">7</text>
<text x="571.4" y="69.9" font-size="5.7" font-weight="bold" fill="#000" stroke="#000" stroke-width="0.12">9</text>
<text x="551.6" y="91.2" font-size="5.7" font-weight="bold" fill="#000" stroke="#000" stroke-width="0.12">3.01</text>
<text x="565.3" y="84.4" font-size="5.7" font-weight="bold" fill="#000" stroke="#000" stroke-width="0.12">3.27</text>
<text x="571.4" y="61.5" font-size="5.7" font-weight="bold" fill="#000" stroke="#000" stroke-width="0.12">5</text>
<text x="566" y="89.6" font-size="5.7" font-weight="bold" fill="#000" stroke="#000" stroke-width="0.12">1.15</text>
<text x="524.8" y="77.6" font-size="5.7" font-weight="bold" fill="#000" stroke="#000" stroke-width="0.12">2.33</text>
<text x="507" y="123.1" font-size="9.7" fill="#2a2a2a" stroke="#2a2a2a" stroke-width="0.18" textLength="60.6" lengthAdjust="spacing">Acetoacetate</text>
<text x="507" y="134.5" font-size="9.7" fill="#2a2a2a" stroke="#2a2a2a" stroke-width="0.18" textLength="61.0" lengthAdjust="spacing">βOH-butyrate</text>
<line x1="336.7" y1="238.3" x2="336.7" y2="422.4" stroke="#d6d6d6" stroke-width="1.5"/>
<line x1="261.2" y1="311.5" x2="412.2" y2="311.5" stroke="#aaaaaa" stroke-width="1"/>
<line x1="261.2" y1="242.3" x2="261.2" y2="422.4" stroke="#939393" stroke-width="1.2"/>
<line x1="261.2" y1="422.4" x2="407.2" y2="422.4" stroke="#939393" stroke-width="1.2"/>
<path d="M261.2 237.5 L259.4 243.9 L263 243.9 Z" fill="#111"/>
<path d="M412.5 422.4 L406 420.6 L406 424.2 Z" fill="#111"/>
<line x1="261.7" y1="422.4" x2="261.7" y2="424.8" stroke="#5a5a5a" stroke-width="0.9"/>
<text transform="translate(261.7 433.8) scale(0.9 1)" font-size="8.2" font-weight="bold" text-anchor="middle" fill="#111111" stroke="#111111" stroke-width="0.4">-2</text>
<line x1="271.07" y1="422.4" x2="271.07" y2="423.9" stroke="#5a5a5a" stroke-width="0.9"/>
<line x1="280.45" y1="422.4" x2="280.45" y2="424.8" stroke="#5a5a5a" stroke-width="0.9"/>
<text transform="translate(280.45 433.8) scale(0.9 1)" font-size="8.2" font-weight="bold" text-anchor="middle" fill="#111111" stroke="#111111" stroke-width="0.4">-1.5</text>
<line x1="289.82" y1="422.4" x2="289.82" y2="423.9" stroke="#5a5a5a" stroke-width="0.9"/>
<line x1="299.2" y1="422.4" x2="299.2" y2="424.8" stroke="#5a5a5a" stroke-width="0.9"/>
<text transform="translate(299.2 433.8) scale(0.9 1)" font-size="8.2" font-weight="bold" text-anchor="middle" fill="#111111" stroke="#111111" stroke-width="0.4">-1</text>
<line x1="308.57" y1="422.4" x2="308.57" y2="423.9" stroke="#5a5a5a" stroke-width="0.9"/>
<line x1="317.95" y1="422.4" x2="317.95" y2="424.8" stroke="#5a5a5a" stroke-width="0.9"/>
<text transform="translate(317.95 433.8) scale(0.9 1)" font-size="8.2" font-weight="bold" text-anchor="middle" fill="#111111" stroke="#111111" stroke-width="0.4">-0.5</text>
<line x1="327.32" y1="422.4" x2="327.32" y2="423.9" stroke="#5a5a5a" stroke-width="0.9"/>
<line x1="336.7" y1="422.4" x2="336.7" y2="424.8" stroke="#5a5a5a" stroke-width="0.9"/>
<text transform="translate(336.7 433.8) scale(0.9 1)" font-size="8.2" font-weight="bold" text-anchor="middle" fill="#111111" stroke="#111111" stroke-width="0.4">0</text>
<line x1="346.07" y1="422.4" x2="346.07" y2="423.9" stroke="#5a5a5a" stroke-width="0.9"/>
<line x1="355.45" y1="422.4" x2="355.45" y2="424.8" stroke="#5a5a5a" stroke-width="0.9"/>
<text transform="translate(355.45 433.8) scale(0.9 1)" font-size="8.2" font-weight="bold" text-anchor="middle" fill="#111111" stroke="#111111" stroke-width="0.4">0.5</text>
<line x1="364.82" y1="422.4" x2="364.82" y2="423.9" stroke="#5a5a5a" stroke-width="0.9"/>
<line x1="374.2" y1="422.4" x2="374.2" y2="424.8" stroke="#5a5a5a" stroke-width="0.9"/>
<text transform="translate(374.2 433.8) scale(0.9 1)" font-size="8.2" font-weight="bold" text-anchor="middle" fill="#111111" stroke="#111111" stroke-width="0.4">1</text>
<line x1="383.57" y1="422.4" x2="383.57" y2="423.9" stroke="#5a5a5a" stroke-width="0.9"/>
<line x1="392.95" y1="422.4" x2="392.95" y2="424.8" stroke="#5a5a5a" stroke-width="0.9"/>
<text transform="translate(392.95 433.8) scale(0.9 1)" font-size="8.2" font-weight="bold" text-anchor="middle" fill="#111111" stroke="#111111" stroke-width="0.4">1.5</text>
<line x1="402.32" y1="422.4" x2="402.32" y2="423.9" stroke="#5a5a5a" stroke-width="0.9"/>
<line x1="258.8" y1="421.9" x2="261.2" y2="421.9" stroke="#5a5a5a" stroke-width="0.9"/>
<text transform="translate(257.9 425.1) scale(0.9 1)" font-size="8.2" font-weight="bold" text-anchor="end" fill="#111111" stroke="#111111" stroke-width="0.4">-6</text>
<line x1="259.7" y1="412.7" x2="261.2" y2="412.7" stroke="#5a5a5a" stroke-width="0.9"/>
<line x1="258.8" y1="403.5" x2="261.2" y2="403.5" stroke="#5a5a5a" stroke-width="0.9"/>
<text transform="translate(257.9 406.7) scale(0.9 1)" font-size="8.2" font-weight="bold" text-anchor="end" fill="#111111" stroke="#111111" stroke-width="0.4">-5</text>
<line x1="259.7" y1="394.3" x2="261.2" y2="394.3" stroke="#5a5a5a" stroke-width="0.9"/>
<line x1="258.8" y1="385.1" x2="261.2" y2="385.1" stroke="#5a5a5a" stroke-width="0.9"/>
<text transform="translate(257.9 388.3) scale(0.9 1)" font-size="8.2" font-weight="bold" text-anchor="end" fill="#111111" stroke="#111111" stroke-width="0.4">-4</text>
<line x1="259.7" y1="375.9" x2="261.2" y2="375.9" stroke="#5a5a5a" stroke-width="0.9"/>
<line x1="258.8" y1="366.7" x2="261.2" y2="366.7" stroke="#5a5a5a" stroke-width="0.9"/>
<text transform="translate(257.9 369.9) scale(0.9 1)" font-size="8.2" font-weight="bold" text-anchor="end" fill="#111111" stroke="#111111" stroke-width="0.4">-3</text>
<line x1="259.7" y1="357.5" x2="261.2" y2="357.5" stroke="#5a5a5a" stroke-width="0.9"/>
<line x1="258.8" y1="348.3" x2="261.2" y2="348.3" stroke="#5a5a5a" stroke-width="0.9"/>
<text transform="translate(257.9 351.5) scale(0.9 1)" font-size="8.2" font-weight="bold" text-anchor="end" fill="#111111" stroke="#111111" stroke-width="0.4">-2</text>
<line x1="259.7" y1="339.1" x2="261.2" y2="339.1" stroke="#5a5a5a" stroke-width="0.9"/>
<line x1="258.8" y1="329.9" x2="261.2" y2="329.9" stroke="#5a5a5a" stroke-width="0.9"/>
<text transform="translate(257.9 333.1) scale(0.9 1)" font-size="8.2" font-weight="bold" text-anchor="end" fill="#111111" stroke="#111111" stroke-width="0.4">-1</text>
<line x1="259.7" y1="320.7" x2="261.2" y2="320.7" stroke="#5a5a5a" stroke-width="0.9"/>
<line x1="258.8" y1="311.5" x2="261.2" y2="311.5" stroke="#5a5a5a" stroke-width="0.9"/>
<text transform="translate(257.9 314.7) scale(0.9 1)" font-size="8.2" font-weight="bold" text-anchor="end" fill="#111111" stroke="#111111" stroke-width="0.4">0</text>
<line x1="259.7" y1="302.3" x2="261.2" y2="302.3" stroke="#5a5a5a" stroke-width="0.9"/>
<line x1="258.8" y1="293.1" x2="261.2" y2="293.1" stroke="#5a5a5a" stroke-width="0.9"/>
<text transform="translate(257.9 296.3) scale(0.9 1)" font-size="8.2" font-weight="bold" text-anchor="end" fill="#111111" stroke="#111111" stroke-width="0.4">1</text>
<line x1="259.7" y1="283.9" x2="261.2" y2="283.9" stroke="#5a5a5a" stroke-width="0.9"/>
<line x1="258.8" y1="274.7" x2="261.2" y2="274.7" stroke="#5a5a5a" stroke-width="0.9"/>
<text transform="translate(257.9 277.9) scale(0.9 1)" font-size="8.2" font-weight="bold" text-anchor="end" fill="#111111" stroke="#111111" stroke-width="0.4">2</text>
<line x1="259.7" y1="265.5" x2="261.2" y2="265.5" stroke="#5a5a5a" stroke-width="0.9"/>
<line x1="258.8" y1="256.3" x2="261.2" y2="256.3" stroke="#5a5a5a" stroke-width="0.9"/>
<text transform="translate(257.9 259.5) scale(0.9 1)" font-size="8.2" font-weight="bold" text-anchor="end" fill="#111111" stroke="#111111" stroke-width="0.4">3</text>
<line x1="259.7" y1="247.1" x2="261.2" y2="247.1" stroke="#5a5a5a" stroke-width="0.9"/>
<text x="336.6" y="443.8" font-size="7.4" font-weight="bold" fill="#111111" stroke="#111111" stroke-width="0.3" text-anchor="middle" textLength="25.6" lengthAdjust="spacingAndGlyphs">w*c[1]</text>
<text x="0" y="0" font-size="6.9" font-weight="bold" fill="#111111" stroke="#111111" stroke-width="0.32" text-anchor="middle" textLength="25.2" lengthAdjust="spacingAndGlyphs" transform="translate(248.2 330) rotate(-90)">w*c[3]</text>
<text x="230.9" y="247.6" font-size="14.4" fill="#111">E</text>
<rect x="319.15" y="246.85" width="6.3" height="6.3" fill="#c6c6c6" stroke="#b4b4b4" stroke-width="0.5"/>
<text x="326" y="252.2" font-size="6.1" fill="#222" stroke="#222" stroke-width="0.16">CPK-MB</text>
<rect x="365.55" y="261.85" width="6.3" height="6.3" fill="#c6c6c6" stroke="#b4b4b4" stroke-width="0.5"/>
<text x="365" y="267.2" font-size="6.1" text-anchor="end" fill="#222" stroke="#222" stroke-width="0.16">GLUCOSE</text>
<rect x="376.85" y="268.55" width="6.3" height="6.3" fill="#c6c6c6" stroke="#b4b4b4" stroke-width="0.5"/>
<text x="379.5" y="281.2" font-size="6.1" text-anchor="middle" fill="#222" stroke="#222" stroke-width="0.16">LDL CHOLES</text>
<rect x="270.55" y="313.05" width="6.3" height="6.3" fill="#c6c6c6" stroke="#b4b4b4" stroke-width="0.5"/>
<text x="277.4" y="318.4" font-size="6.1" fill="#222" stroke="#222" stroke-width="0.16">Gpt-Alt</text>
<rect x="268.25" y="353.15" width="6.3" height="6.3" fill="#c6c6c6" stroke="#b4b4b4" stroke-width="0.5"/>
<text x="271.7" y="351.3" font-size="6.1" text-anchor="middle" fill="#222" stroke="#222" stroke-width="0.16">Got-Ast</text>
<rect x="287.15" y="348.35" width="6.3" height="6.3" fill="#c6c6c6" stroke="#b4b4b4" stroke-width="0.5"/>
<text x="294" y="353.7" font-size="6.1" fill="#222" stroke="#222" stroke-width="0.16">FIBRINOGEN</text>
<rect x="360.15" y="307.55" width="6.3" height="6.3" fill="#c6c6c6" stroke="#b4b4b4" stroke-width="0.5"/>
<text x="367" y="312.9" font-size="6.1" fill="#222" stroke="#222" stroke-width="0.16">CPK</text>
<rect x="363.85" y="326.55" width="6.3" height="6.3" fill="#c6c6c6" stroke="#b4b4b4" stroke-width="0.5"/>
<text x="370.7" y="331.9" font-size="6.1" fill="#222" stroke="#222" stroke-width="0.16">PLT</text>
<rect x="404.15" y="327.85" width="6.3" height="6.3" fill="#c6c6c6" stroke="#b4b4b4" stroke-width="0.5"/>
<text x="403.6" y="333.2" font-size="6.1" text-anchor="end" fill="#222" stroke="#222" stroke-width="0.16">WBC</text>
<rect x="297.55" y="391.15" width="6.3" height="6.3" fill="#c6c6c6" stroke="#b4b4b4" stroke-width="0.5"/>
<text x="304.4" y="396.5" font-size="6.1" fill="#222" stroke="#222" stroke-width="0.16">CREATININE</text>
<rect x="343.55" y="392.55" width="6.3" height="6.3" fill="#c6c6c6" stroke="#b4b4b4" stroke-width="0.5"/>
<text x="350.4" y="397.9" font-size="6.1" fill="#222" stroke="#222" stroke-width="0.16">RBC</text>
<rect x="325.55" y="400.15" width="6.3" height="6.3" fill="#c6c6c6" stroke="#b4b4b4" stroke-width="0.5"/>
<text x="332.4" y="405.5" font-size="6.1" fill="#222" stroke="#222" stroke-width="0.16">Hb</text>
<rect x="307.15" y="408.15" width="6.3" height="6.3" fill="#c6c6c6" stroke="#b4b4b4" stroke-width="0.5"/>
<text x="314" y="413.5" font-size="6.1" fill="#222" stroke="#222" stroke-width="0.16">Hct</text>
<path d="M316.3 305.3 L323.5 305.3 L323.5 306.5 L330.7 306.5 L330.7 307.3 L333 307.3 L333 317.6 L327 317.6 L327 315 L322 315 L322 311.5 L316.3 311.5 Z" fill="#0a0aff"/>
<rect x="335.3" y="303.8" width="5.6" height="3.8" fill="#ffaa00"/>
<rect x="340.2" y="304.6" width="4.8" height="10.6" fill="#ff2200"/>
<rect x="339" y="307" width="2" height="7.2" fill="#eeee00"/>
<rect x="331.5" y="315" width="6.3" height="3.3" fill="#00eeff"/>
<rect x="334.2" y="315.8" width="6.7" height="3.9" fill="#55ee00"/>
<rect x="329.8" y="312" width="3.5" height="5" fill="#0066ff"/>
<rect x="332.7" y="307.4" width="7.0" height="6.8" fill="#00eeaa" stroke="#22aa88" stroke-width="0.5"/>
<text x="306.1" y="304.3" font-size="5.9" fill="#222">1.21</text>
<text x="321" y="304.3" font-size="5.9" fill="#222">2.29</text>
<text x="334.8" y="303.8" font-size="5.8" font-weight="bold" fill="#111" stroke="#111" stroke-width="0.2">3.63</text>
<text x="335.6" y="303.4" font-size="5.8" font-weight="bold" fill="#111" stroke="#111" stroke-width="0.2">3.43</text>
<text x="314.8" y="312" font-size="5.8" font-weight="bold" fill="#111" stroke="#111" stroke-width="0.2">2.61</text>
<text x="315.6" y="312" font-size="5.8" font-weight="bold" fill="#111" stroke="#111" stroke-width="0.2">2.41</text>
<text x="345" y="312" font-size="5.8" font-weight="bold" fill="#111" stroke="#111" stroke-width="0.2">3.40</text>
<text x="345.8" y="312" font-size="5.8" font-weight="bold" fill="#111" stroke="#111" stroke-width="0.2">3.49</text>
<line x1="556.3" y1="238.3" x2="556.3" y2="422.4" stroke="#8a8a8a" stroke-width="1.2"/>
<line x1="499.4" y1="329.7" x2="643.6" y2="329.7" stroke="#7c7c7c" stroke-width="1"/>
<line x1="499.4" y1="242.3" x2="499.4" y2="422.4" stroke="#939393" stroke-width="1.2"/>
<line x1="499.4" y1="422.4" x2="638.6" y2="422.4" stroke="#939393" stroke-width="1.2"/>
<path d="M499.4 237.5 L497.6 243.9 L501.2 243.9 Z" fill="#111"/>
<path d="M643.9 422.4 L637.4 420.6 L637.4 424.2 Z" fill="#111"/>
<line x1="501.3" y1="422.4" x2="501.3" y2="423.9" stroke="#5a5a5a" stroke-width="0.9"/>
<line x1="512.3" y1="422.4" x2="512.3" y2="424.8" stroke="#5a5a5a" stroke-width="0.9"/>
<text transform="translate(512.3 433.8) scale(0.9 1)" font-size="8.2" font-weight="bold" text-anchor="middle" fill="#111111" stroke="#111111" stroke-width="0.4">-0.4</text>
<line x1="523.3" y1="422.4" x2="523.3" y2="423.9" stroke="#5a5a5a" stroke-width="0.9"/>
<line x1="534.3" y1="422.4" x2="534.3" y2="424.8" stroke="#5a5a5a" stroke-width="0.9"/>
<text transform="translate(534.3 433.8) scale(0.9 1)" font-size="8.2" font-weight="bold" text-anchor="middle" fill="#111111" stroke="#111111" stroke-width="0.4">-0.2</text>
<line x1="545.3" y1="422.4" x2="545.3" y2="423.9" stroke="#5a5a5a" stroke-width="0.9"/>
<line x1="556.3" y1="422.4" x2="556.3" y2="424.8" stroke="#5a5a5a" stroke-width="0.9"/>
<text transform="translate(556.3 433.8) scale(0.9 1)" font-size="8.2" font-weight="bold" text-anchor="middle" fill="#111111" stroke="#111111" stroke-width="0.4">0</text>
<line x1="567.3" y1="422.4" x2="567.3" y2="423.9" stroke="#5a5a5a" stroke-width="0.9"/>
<line x1="578.3" y1="422.4" x2="578.3" y2="424.8" stroke="#5a5a5a" stroke-width="0.9"/>
<text transform="translate(578.3 433.8) scale(0.9 1)" font-size="8.2" font-weight="bold" text-anchor="middle" fill="#111111" stroke="#111111" stroke-width="0.4">0.2</text>
<line x1="589.3" y1="422.4" x2="589.3" y2="423.9" stroke="#5a5a5a" stroke-width="0.9"/>
<line x1="600.3" y1="422.4" x2="600.3" y2="424.8" stroke="#5a5a5a" stroke-width="0.9"/>
<text transform="translate(600.3 433.8) scale(0.9 1)" font-size="8.2" font-weight="bold" text-anchor="middle" fill="#111111" stroke="#111111" stroke-width="0.4">0.4</text>
<line x1="611.3" y1="422.4" x2="611.3" y2="423.9" stroke="#5a5a5a" stroke-width="0.9"/>
<line x1="622.3" y1="422.4" x2="622.3" y2="424.8" stroke="#5a5a5a" stroke-width="0.9"/>
<text transform="translate(622.3 433.8) scale(0.9 1)" font-size="8.2" font-weight="bold" text-anchor="middle" fill="#111111" stroke="#111111" stroke-width="0.4">0.6</text>
<line x1="633.3" y1="422.4" x2="633.3" y2="423.9" stroke="#5a5a5a" stroke-width="0.9"/>
<line x1="497" y1="419.4" x2="499.4" y2="419.4" stroke="#5a5a5a" stroke-width="0.9"/>
<text transform="translate(496.1 422.6) scale(0.9 1)" font-size="8.2" font-weight="bold" text-anchor="end" fill="#111111" stroke="#111111" stroke-width="0.4">-1.5</text>
<line x1="497.9" y1="404.45" x2="499.4" y2="404.45" stroke="#5a5a5a" stroke-width="0.9"/>
<line x1="497" y1="389.5" x2="499.4" y2="389.5" stroke="#5a5a5a" stroke-width="0.9"/>
<text transform="translate(496.1 392.7) scale(0.9 1)" font-size="8.2" font-weight="bold" text-anchor="end" fill="#111111" stroke="#111111" stroke-width="0.4">-1</text>
<line x1="497.9" y1="374.55" x2="499.4" y2="374.55" stroke="#5a5a5a" stroke-width="0.9"/>
<line x1="497" y1="359.6" x2="499.4" y2="359.6" stroke="#5a5a5a" stroke-width="0.9"/>
<text transform="translate(496.1 362.8) scale(0.9 1)" font-size="8.2" font-weight="bold" text-anchor="end" fill="#111111" stroke="#111111" stroke-width="0.4">-0.5</text>
<line x1="497.9" y1="344.65" x2="499.4" y2="344.65" stroke="#5a5a5a" stroke-width="0.9"/>
<line x1="497" y1="329.7" x2="499.4" y2="329.7" stroke="#5a5a5a" stroke-width="0.9"/>
<text transform="translate(496.1 332.9) scale(0.9 1)" font-size="8.2" font-weight="bold" text-anchor="end" fill="#111111" stroke="#111111" stroke-width="0.4">0</text>
<line x1="497.9" y1="314.75" x2="499.4" y2="314.75" stroke="#5a5a5a" stroke-width="0.9"/>
<line x1="497" y1="299.8" x2="499.4" y2="299.8" stroke="#5a5a5a" stroke-width="0.9"/>
<text transform="translate(496.1 303) scale(0.9 1)" font-size="8.2" font-weight="bold" text-anchor="end" fill="#111111" stroke="#111111" stroke-width="0.4">0.5</text>
<line x1="497.9" y1="284.85" x2="499.4" y2="284.85" stroke="#5a5a5a" stroke-width="0.9"/>
<line x1="497" y1="269.9" x2="499.4" y2="269.9" stroke="#5a5a5a" stroke-width="0.9"/>
<text transform="translate(496.1 273.1) scale(0.9 1)" font-size="8.2" font-weight="bold" text-anchor="end" fill="#111111" stroke="#111111" stroke-width="0.4">1</text>
<line x1="497.9" y1="254.95" x2="499.4" y2="254.95" stroke="#5a5a5a" stroke-width="0.9"/>
<text x="571.6" y="443.8" font-size="7.3" font-weight="bold" fill="#111111" stroke="#111111" stroke-width="0.3" text-anchor="middle" textLength="25.5" lengthAdjust="spacingAndGlyphs">w*c[1]</text>
<text x="0" y="0" font-size="7.9" font-weight="bold" fill="#111111" stroke="#111111" stroke-width="0.32" text-anchor="middle" textLength="26.2" lengthAdjust="spacingAndGlyphs" transform="translate(481 329.7) rotate(-90)">w*c[3]</text>
<text x="462.9" y="247.6" font-size="14.4" fill="#111">F</text>
<rect x="629.55" y="324.85" width="6.3" height="6.3" fill="#c6c6c6" stroke="#b4b4b4" stroke-width="0.5"/>
<text x="629.3" y="330.2" font-size="6.1" text-anchor="end" fill="#222" stroke="#222" stroke-width="0.16">CPK</text>
<rect x="641.6" y="386.9" width="2.2" height="6.3" fill="#c6c6c6"/>
<text x="640.5" y="392.2" font-size="6.1" text-anchor="end" fill="#222" stroke="#222" stroke-width="0.16">PLT</text>
<rect x="503.7" y="318.3" width="5.7" height="5.7" fill="#0000ff" stroke="#0000b7" stroke-width="0.45"/>
<rect x="522.6" y="322.7" width="5.7" height="5.7" fill="#0000ff" stroke="#0000b7" stroke-width="0.45"/>
<rect x="522.1" y="324.8" width="5.7" height="5.7" fill="#0000ee" stroke="#0000ab" stroke-width="0.45"/>
<rect x="530.2" y="324.2" width="5.7" height="5.7" fill="#0000ff" stroke="#0000b7" stroke-width="0.45"/>
<rect x="531.3" y="323.7" width="5.7" height="5.7" fill="#0000ff" stroke="#0000b7" stroke-width="0.45"/>
<rect x="535.8" y="323.1" width="5.7" height="5.7" fill="#0010ff" stroke="#000bb7" stroke-width="0.45"/>
<rect x="537.5" y="330.4" width="5.7" height="5.7" fill="#0000ee" stroke="#0000ab" stroke-width="0.45"/>
<rect x="542" y="325.9" width="5.7" height="5.7" fill="#0040ff" stroke="#002eb7" stroke-width="0.45"/>
<rect x="547" y="325.4" width="5.7" height="5.7" fill="#0050ff" stroke="#0039b7" stroke-width="0.45"/>
<rect x="547" y="331.5" width="5.7" height="5.7" fill="#1a8cff" stroke="#1264b7" stroke-width="0.45"/>
<rect x="543.6" y="337.7" width="5.7" height="5.7" fill="#0066ff" stroke="#0049b7" stroke-width="0.45"/>
<rect x="548.1" y="337.7" width="5.7" height="5.7" fill="#00eeff" stroke="#00abb7" stroke-width="0.45"/>
<rect x="553.2" y="331.5" width="5.7" height="5.7" fill="#00ee88" stroke="#00ab61" stroke-width="0.45"/>
<rect x="554.3" y="337.1" width="5.7" height="5.7" fill="#44ee00" stroke="#30ab00" stroke-width="0.45"/>
<rect x="554.8" y="343.2" width="5.7" height="5.7" fill="#88ee00" stroke="#61ab00" stroke-width="0.45"/>
<rect x="556" y="345.1" width="5.7" height="5.7" fill="#99ee00" stroke="#6eab00" stroke-width="0.45"/>
<rect x="555.7" y="333.2" width="5.7" height="5.7" fill="#77ee22" stroke="#55ab18" stroke-width="0.45"/>
<rect x="557.6" y="335.4" width="5.7" height="5.7" fill="#bbee00" stroke="#86ab00" stroke-width="0.45"/>
<rect x="558.2" y="319.8" width="5.7" height="5.7" fill="#ff9900" stroke="#b76e00" stroke-width="0.45"/>
<rect x="560.4" y="325.4" width="5.7" height="5.7" fill="#ffcc00" stroke="#b79200" stroke-width="0.45"/>
<rect x="559.9" y="328" width="5.7" height="5.7" fill="#ffee00" stroke="#b7ab00" stroke-width="0.45"/>
<rect x="561.6" y="315.3" width="5.7" height="5.7" fill="#ffdd00" stroke="#b79f00" stroke-width="0.45"/>
<rect x="563.8" y="317.5" width="5.7" height="5.7" fill="#ff8800" stroke="#b76100" stroke-width="0.45"/>
<rect x="562.1" y="322" width="5.7" height="5.7" fill="#ff9900" stroke="#b76e00" stroke-width="0.45"/>
<rect x="562.7" y="331" width="5.7" height="5.7" fill="#ffaa00" stroke="#b77a00" stroke-width="0.45"/>
<rect x="564.4" y="331.4" width="5.7" height="5.7" fill="#ff5500" stroke="#b73d00" stroke-width="0.45"/>
<rect x="567.2" y="324.2" width="5.7" height="5.7" fill="#ff4400" stroke="#b73000" stroke-width="0.45"/>
<rect x="568.3" y="318.6" width="5.7" height="5.7" fill="#ff2200" stroke="#b71800" stroke-width="0.45"/>
<rect x="551.0" y="323.6" width="6.8" height="7.0" fill="#00eebb" stroke="#33bbaa" stroke-width="0.5"/>
<rect x="564.4" y="330.5" width="3.6" height="7" fill="#ff3300"/>
<text x="501.6" y="316.7" font-size="5.9" fill="#222">1.21</text>
<text x="519.8" y="321" font-size="5.9" fill="#222">2.29</text>
<text x="532.8" y="322.4" font-size="5.9" fill="#222">2.31</text>
<text x="551.8" y="315.1" font-size="5.9" fill="#222">2.47</text>
<text x="559.7" y="316.2" font-size="5.9" fill="#222">5.28</text>
<text x="568.6" y="314" font-size="5.9" fill="#222">3.43</text>
<text x="573.2" y="325.5" font-size="5.6" font-weight="bold" fill="#111" stroke="#111" stroke-width="0.2">3.40</text>
<text x="574.2" y="325.3" font-size="5.6" font-weight="bold" fill="#111" stroke="#111" stroke-width="0.2">3.59</text>
<text x="568.2" y="334.8" font-size="5.6" font-weight="bold" fill="#111" stroke="#111" stroke-width="0.2">3.03</text>
<text x="569.4" y="334.8" font-size="5.6" font-weight="bold" fill="#111" stroke="#111" stroke-width="0.2">3.76</text>
<text x="520.6" y="329.4" font-size="5.6" font-weight="bold" fill="#111">2.41</text>
<text x="507" y="295.6" font-size="9.7" fill="#2a2a2a" stroke="#2a2a2a" stroke-width="0.18" textLength="45.2" lengthAdjust="spacing">Succinate</text>
<text x="507.3" y="361.7" font-size="9.7" fill="#2a2a2a" stroke="#2a2a2a" stroke-width="0.18" textLength="61.0" lengthAdjust="spacing">βOH-butyrate</text>
<defs><linearGradient id="g413" x1="0" y1="0" x2="0" y2="1"><stop offset="0" stop-color="#ff0000"/><stop offset="0.25" stop-color="#ffff00"/><stop offset="0.5" stop-color="#00ff00"/><stop offset="0.75" stop-color="#00ffff"/><stop offset="1" stop-color="#0000ff"/></linearGradient></defs>
<rect x="413.5" y="8.2" width="6.5" height="193.5" fill="url(#g413)"/>
<text transform="translate(412.9 5.6) scale(0.9 1)" font-size="6.6" font-weight="bold" fill="#111111" stroke="#111111" stroke-width="0.18">M14.p(corr)[1]</text>
<text x="421.2" y="58.78" font-size="6.1" font-weight="bold" fill="#111111" stroke="#111111" stroke-width="0.18">0.5</text>
<text x="421.2" y="107.15" font-size="6.1" font-weight="bold" fill="#111111" stroke="#111111" stroke-width="0.18">0</text>
<text x="421.2" y="155.52" font-size="6.1" font-weight="bold" fill="#111111" stroke="#111111" stroke-width="0.18">-0.5</text>
<text x="421.2" y="203.9" font-size="6.1" font-weight="bold" fill="#111111" stroke="#111111" stroke-width="0.18">-1</text>
<rect x="413.5" y="206.2" width="6.5" height="6.3" fill="#c4c4c4"/>
<text x="421.4" y="211.5" font-size="6.1" font-weight="bold" fill="#111111" stroke="#111111" stroke-width="0.18">Missing</text>
<defs><linearGradient id="g646" x1="0" y1="0" x2="0" y2="1"><stop offset="0" stop-color="#ff0000"/><stop offset="0.25" stop-color="#ffff00"/><stop offset="0.5" stop-color="#00ff00"/><stop offset="0.75" stop-color="#00ffff"/><stop offset="1" stop-color="#0000ff"/></linearGradient></defs>
<rect x="646.3" y="8.2" width="6" height="192.8" fill="url(#g646)"/>
<text transform="translate(645 5.6) scale(0.9 1)" font-size="6.6" font-weight="bold" fill="#111111" stroke="#111111" stroke-width="0.18">M14.p(corr)[1]</text>
<text x="653.5" y="58.6" font-size="6.1" font-weight="bold" fill="#111111" stroke="#111111" stroke-width="0.18">0.5</text>
<text x="653.5" y="106.8" font-size="6.1" font-weight="bold" fill="#111111" stroke="#111111" stroke-width="0.18">0</text>
<text x="653.5" y="155" font-size="6.1" font-weight="bold" fill="#111111" stroke="#111111" stroke-width="0.18">-0.5</text>
<text x="653.5" y="203.2" font-size="6.1" font-weight="bold" fill="#111111" stroke="#111111" stroke-width="0.18">-1</text>
<rect x="646.3" y="205.5" width="6" height="6.3" fill="#c4c4c4"/>
<text x="653.7" y="210.8" font-size="6.1" font-weight="bold" fill="#111111" stroke="#111111" stroke-width="0.18">Missing</text>
<defs><linearGradient id="g417" x1="0" y1="0" x2="0" y2="1"><stop offset="0" stop-color="#ff0000"/><stop offset="0.25" stop-color="#ffff00"/><stop offset="0.5" stop-color="#00ff00"/><stop offset="0.75" stop-color="#00ffff"/><stop offset="1" stop-color="#0000ff"/></linearGradient></defs>
<rect x="417" y="241.7" width="6.3" height="193" fill="url(#g417)"/>
<text transform="translate(416 239.6) scale(0.9 1)" font-size="6.6" font-weight="bold" fill="#111111" stroke="#111111" stroke-width="0.18">M6.p(corr)[1]</text>
<text x="424.5" y="292.15" font-size="6.1" font-weight="bold" fill="#111111" stroke="#111111" stroke-width="0.18">0.5</text>
<text x="424.5" y="340.4" font-size="6.1" font-weight="bold" fill="#111111" stroke="#111111" stroke-width="0.18">0</text>
<text x="424.5" y="388.65" font-size="6.1" font-weight="bold" fill="#111111" stroke="#111111" stroke-width="0.18">-0.5</text>
<text x="424.5" y="436.9" font-size="6.1" font-weight="bold" fill="#111111" stroke="#111111" stroke-width="0.18">-1</text>
<rect x="417" y="439.2" width="6.3" height="6.3" fill="#c4c4c4"/>
<text x="424.7" y="444.5" font-size="6.1" font-weight="bold" fill="#111111" stroke="#111111" stroke-width="0.18">Missing</text>
<defs><linearGradient id="g649" x1="0" y1="0" x2="0" y2="1"><stop offset="0" stop-color="#ff0000"/><stop offset="0.25" stop-color="#ffff00"/><stop offset="0.5" stop-color="#00ff00"/><stop offset="0.75" stop-color="#00ffff"/><stop offset="1" stop-color="#0000ff"/></linearGradient></defs>
<rect x="649" y="241.7" width="6" height="193" fill="url(#g649)"/>
<text transform="translate(647.7 239.6) scale(0.9 1)" font-size="6.6" font-weight="bold" fill="#111111" stroke="#111111" stroke-width="0.18">M6.p(corr)[1]</text>
<text x="656.2" y="292.15" font-size="6.1" font-weight="bold" fill="#111111" stroke="#111111" stroke-width="0.18">0.5</text>
<text x="656.2" y="340.4" font-size="6.1" font-weight="bold" fill="#111111" stroke="#111111" stroke-width="0.18">0</text>
<text x="656.2" y="388.65" font-size="6.1" font-weight="bold" fill="#111111" stroke="#111111" stroke-width="0.18">-0.5</text>
<text x="656.2" y="436.9" font-size="6.1" font-weight="bold" fill="#111111" stroke="#111111" stroke-width="0.18">-1</text>
<rect x="649" y="439.2" width="6" height="6.3" fill="#c4c4c4"/>
<text x="656.4" y="444.5" font-size="6.1" font-weight="bold" fill="#111111" stroke="#111111" stroke-width="0.18">Missing</text>
</svg>
</body></html>
